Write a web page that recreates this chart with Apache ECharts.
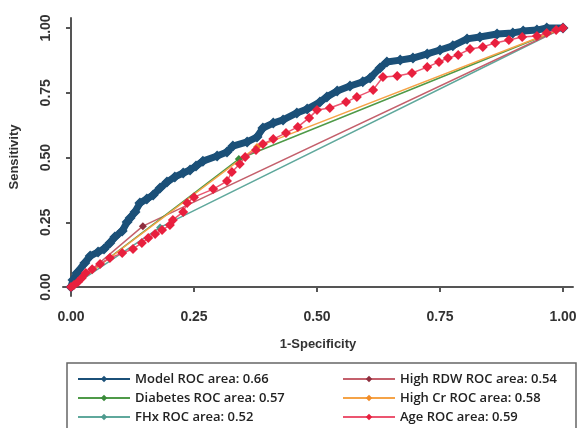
<!DOCTYPE html>
<html>
<head>
<meta charset="utf-8">
<script src="https://cdn.jsdelivr.net/npm/echarts@6/dist/echarts.min.js"></script>
<style>
  html, body { margin: 0; padding: 0; background: #fff; }
  #chart { width: 580px; height: 428px; }
</style>
</head>
<body>
<div id="chart"></div>
<script>
// [1-specificity, sensitivity] points
const modelPoints = [
  [0, 0], [0.004, 0.027], [0.012, 0.054], [0.028, 0.093], [0.039, 0.12], [0.055, 0.135],
  [0.067, 0.147], [0.079, 0.17], [0.089, 0.193], [0.104, 0.216], [0.114, 0.251], [0.12, 0.266],
  [0.13, 0.29], [0.14, 0.324], [0.154, 0.34], [0.167, 0.355], [0.181, 0.382], [0.195, 0.405],
  [0.211, 0.425], [0.228, 0.44], [0.242, 0.452], [0.254, 0.467], [0.268, 0.486], [0.297, 0.506],
  [0.317, 0.521], [0.329, 0.544], [0.358, 0.56], [0.378, 0.579], [0.39, 0.614], [0.411, 0.633],
  [0.431, 0.645], [0.459, 0.672], [0.48, 0.687], [0.506, 0.714], [0.52, 0.734], [0.541, 0.757],
  [0.567, 0.776], [0.593, 0.792], [0.608, 0.807], [0.628, 0.846], [0.642, 0.869], [0.669, 0.876],
  [0.695, 0.884], [0.724, 0.9], [0.75, 0.915], [0.776, 0.931], [0.805, 0.958], [0.831, 0.965],
  [0.866, 0.977], [0.898, 0.981], [0.919, 0.988], [0.947, 0.992], [0.967, 1], [1, 1]
];
const agePoints = [
  [0, 0], [0.006, 0.008], [0.014, 0.019], [0.022, 0.035], [0.03, 0.054], [0.043, 0.069],
  [0.059, 0.089], [0.079, 0.112], [0.104, 0.131], [0.126, 0.147], [0.144, 0.17], [0.157, 0.189],
  [0.171, 0.205], [0.185, 0.22], [0.201, 0.239], [0.207, 0.259], [0.228, 0.29], [0.236, 0.324],
  [0.25, 0.347], [0.289, 0.378], [0.317, 0.409], [0.327, 0.444], [0.343, 0.475], [0.354, 0.502],
  [0.376, 0.529], [0.39, 0.552], [0.411, 0.571], [0.437, 0.595], [0.461, 0.618], [0.484, 0.653],
  [0.5, 0.683], [0.526, 0.691], [0.559, 0.714], [0.581, 0.734], [0.614, 0.761], [0.634, 0.811],
  [0.663, 0.815], [0.693, 0.826], [0.724, 0.849], [0.748, 0.869], [0.766, 0.884], [0.787, 0.896],
  [0.811, 0.919], [0.837, 0.927], [0.862, 0.942], [0.89, 0.954], [0.917, 0.965], [0.947, 0.969],
  [0.967, 0.981], [0.986, 0.992], [1, 1]
];
const diabetesPoints = [[0, 0], [0.341, 0.494], [1, 1]];
const highCrPoints = [[0, 0], [0.378, 0.541], [1, 1]];
const highRdwPoints = [[0, 0], [0.146, 0.235], [1, 1]];
const fhxPoints = [[0, 0], [0.181, 0.23], [1, 1]];
const tickValues = [0, 0.25, 0.5, 0.75, 1];

let myChart = echarts.init(document.getElementById("chart"));

const labelFont = { color: "#333", fontSize: 14, fontWeight: "bold", fontFamily: "Liberation Sans" };
const nameFont = { color: "#333", fontSize: 13, fontWeight: "bold", fontFamily: "Liberation Sans" };
const legendText = { color: "#222", fontSize: 13, fontWeight: 600, fontFamily: "Open Sans", lineHeight: 14 };

function binary(name, data, lineColor, markColor) {
  return {
    name: name,
    type: "line",
    data: data,
    symbol: "diamond",
    symbolSize: 8,
    lineStyle: { color: lineColor, width: 1.5 },
    itemStyle: { color: markColor },
  };
}

function legendColumn(left, names) {
  return {
    left: left,
    top: 372,
    height: 70,
    padding: 0,
    orient: "vertical",
    itemWidth: 52,
    itemHeight: 8,
    itemGap: 5,
    lineStyle: { width: 2 },
    textStyle: legendText,
    data: names,
  };
}

myChart.setOption({
  animation: false,
  grid: { left: 63, right: 7, top: 18, bottom: 132 },
  xAxis: {
    type: "value",
    min: -0.0163,
    max: 1.0203,
    name: "1-Specificity",
    nameLocation: "middle",
    nameGap: 42,
    nameTextStyle: nameFont,
    splitLine: { show: false },
    axisLine: { show: true, lineStyle: { color: "#555", width: 2 } },
    axisTick: { show: true, customValues: tickValues, length: 5, lineStyle: { color: "#555", width: 2 } },
    axisLabel: {
      customValues: tickValues,
      margin: 14,
      formatter: (v) => v.toFixed(2),
      ...labelFont,
    },
  },
  yAxis: {
    type: "value",
    min: -0.0347,
    max: 1.0386,
    name: "Sensitivity",
    nameLocation: "middle",
    nameGap: 42,
    nameTextStyle: nameFont,
    splitLine: { show: false },
    axisLine: { show: true, lineStyle: { color: "#555", width: 2 } },
    axisTick: { show: true, customValues: tickValues, length: 5, lineStyle: { color: "#555", width: 2 } },
    axisLabel: {
      customValues: tickValues,
      rotate: 90,
      margin: 10,
      formatter: (v) => v.toFixed(2),
      ...labelFont,
    },
  },
  graphic: [
    {
      type: "rect",
      shape: { x: 67, y: 363, width: 509, height: 80 },
      style: { fill: "none", stroke: "#666", lineWidth: 1.5 },
    },
  ],
  legend: [
    legendColumn(77, ["Model ROC area: 0.66", "Diabetes ROC area: 0.57", "FHx ROC area: 0.52"]),
    legendColumn(342, ["High RDW ROC area: 0.54", "High Cr ROC area: 0.58", "Age ROC area: 0.59"]),
  ],
  series: [
    binary("FHx ROC area: 0.52", fhxPoints, "#5fa89c", "#4e9a8e"),
    binary("High RDW ROC area: 0.54", highRdwPoints, "#c4606c", "#8e2f3e"),
    binary("Diabetes ROC area: 0.57", diabetesPoints, "#4f9a48", "#3a8a3a"),
    binary("High Cr ROC area: 0.58", highCrPoints, "#f5a347", "#f28c28"),
    {
      name: "Model ROC area: 0.66",
      type: "line",
      data: modelPoints,
      symbol: "diamond",
      symbolSize: 11,
      lineStyle: { color: "#1b5078", width: 7 },
      itemStyle: { color: "#1b5078" },
    },
    {
      name: "Age ROC area: 0.59",
      type: "line",
      data: agePoints,
      symbol: "diamond",
      symbolSize: 10,
      lineStyle: { color: "#ec5570", width: 1.5 },
      itemStyle: { color: "#e8203e" },
    },
  ],
});
</script>
</body>
</html>
